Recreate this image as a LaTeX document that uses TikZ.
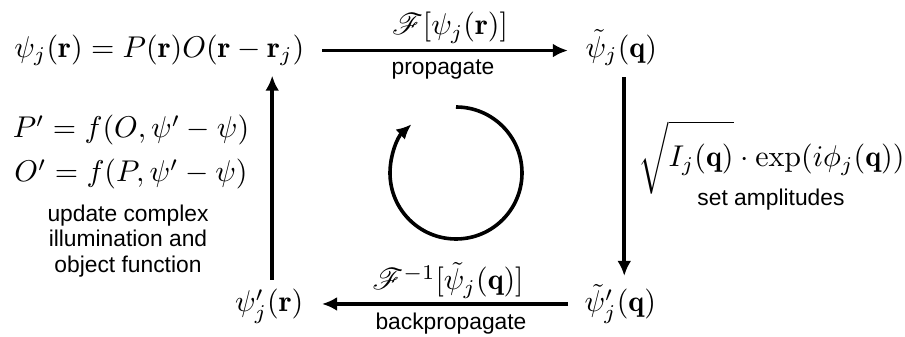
\documentclass[tikz,border=0pt]{standalone}
\usepackage{amsmath}
\usepackage{mathrsfs}
\usepackage{fontspec}
\newfontfamily\lblfont{Liberation Sans}
\usetikzlibrary{arrows.meta}
\begin{document}
\begin{tikzpicture}[x=0.3333pt,y=-0.3333pt,
  math/.style={inner sep=0pt},
  lbl/.style={inner sep=0pt,font=\lblfont\fontsize{7.6}{8.5}\selectfont,align=center},
  arr/.style={line width=1.2pt,-{Latex[length=5pt,width=4.6pt]}}]
\useasboundingbox (0,0) rectangle (905,337);
% main nodes
\node[math,anchor=base east] (eq1) at (305,57.5) {$\psi_j(\mathbf{r}) = P(\mathbf{r})O(\mathbf{r}-\mathbf{r}_j)$};
\node[math,anchor=base west] (psiq) at (585,57.5) {$\tilde{\psi}_j(\mathbf{q})$};
\node[math,anchor=base west] (psiqp) at (584,312) {$\tilde{\psi}'_j(\mathbf{q})$};
\node[math,anchor=base east] (psirp) at (304,312) {$\psi'_j(\mathbf{r})$};
% labels
\node[math,anchor=base] (ltop) at (450,35) {$\mathscr{F}[\psi_j(\mathbf{r})]$};
\node[lbl,anchor=base] (lprop) at (443,75) {propagate};
\node[math,anchor=base west] (lright) at (638,167) {$\sqrt{\vphantom{\Big(}I_j(\mathbf{q})}\cdot\exp(i\phi_j(\mathbf{q}))$};
\node[lbl,anchor=base] (lset) at (771,206) {set amplitudes};
\node[math,anchor=base] (lbot) at (448,290) {$\mathscr{F}^{-1}[\tilde{\psi}_j(\mathbf{q})]$};
\node[lbl,anchor=base] (lback) at (451,330) {backpropagate};
\node[math,anchor=base] (lP) at (131,138) {$P' = f(O,\psi'-\psi)$};
\node[math,anchor=base] (lO) at (131,182) {$O' = f(P,\psi'-\psi)$};
\node[lbl] (lupd) at (128,241) {update complex\\illumination and\\object function};
% connectors
\draw[arr,shorten <=5.7pt,shorten >=5.7pt] (eq1.east) -- (eq1.east -| psiq.west);
\draw[arr,shorten <=3.5pt,shorten >=2.5pt] ([xshift=1pt]psiq.south) -- ([xshift=1pt]psiq.south |- psiqp.north);
\draw[arr,shorten <=5.3pt,shorten >=6pt] (psiqp.west) -- (psiqp.west -| psirp.east);
\draw[arr,shorten <=3pt,shorten >=3pt] ([xshift=1pt]psirp.north) -- ([xshift=1pt]psirp.north |- eq1.south);
% cycle symbol
\draw[arr] (456,173) ++(-90:66) arc[start angle=-90,end angle=227.5,radius=66];
\end{tikzpicture}
\end{document}
